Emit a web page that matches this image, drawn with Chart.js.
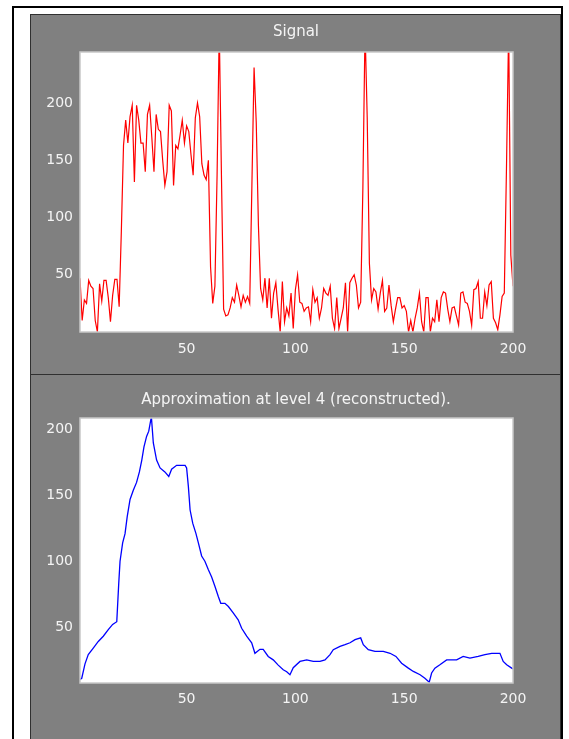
<!DOCTYPE html>
<html>
<head>
<meta charset="utf-8">
<script src="https://cdn.jsdelivr.net/npm/chart.js@4.4.1/dist/chart.umd.min.js"></script>
<style>
  html, body { margin:0; padding:0; background:#fff; width:569px; height:739px; overflow:hidden; }
  #frame { position:absolute; left:12px; top:6px; width:547px; height:740px;
           border-left:2px solid #000; border-top:2px solid #000; border-right:2px solid #000; }
  .panel { position:absolute; left:30px; width:531px; background:#808080;
           border:1px solid #303030; box-sizing:border-box; }
  canvas { position:absolute; left:31px; }
</style>
</head>
<body>
<div id="frame"></div>
<div class="panel" style="top:14px;height:361px"></div>
<div class="panel" style="top:374px;height:366px"></div>
<canvas id="sigChart" width="530" height="358" style="top:15px"></canvas>
<canvas id="appChart" width="530" height="362" style="top:375px"></canvas>
<script>
// tick labels (both plots)
const xTicks = [50, 100, 150, 200];
const yTicks = [50, 100, 150, 200];

// original signal, samples 1..200 (spikes go past the top of the axes)
const signalVals = [
  47, 10, 28, 25, 45, 40, 38, 10,  0, 42,
  27, 45, 45, 30,  9, 32, 46, 46, 22, 88,
 163,185,165,188,198,131,198,185,165,165,
 140,190,198,170,140,190,177,175,150,128,
 140,198,193,128,163,160,172,185,165,180,
 175,155,137,187,200,188,147,137,133,150,
  57, 25, 40,137,265,137, 20, 14, 15, 21,
  30, 26, 41, 32, 22, 32, 26, 31, 25,128,
 231,183, 93, 38, 28, 47, 21, 47, 12, 34,
  43, 20,  0, 44,  9, 21, 14, 34,  3, 37,
  50, 26, 25, 18, 21, 22,  9, 37, 26, 30,
  12, 21, 38, 34, 32, 40, 12,  3, 30,  3,
  12, 21, 43,  0, 43, 47, 50, 41, 21, 26,
 125,265,187, 60, 28, 38, 35, 20, 34, 45,
  18, 21, 41, 23,  9, 20, 30, 30, 21, 23,
  18,  0, 10,  0, 12, 21, 34,  9,  0, 30,
  30,  0, 12,  9, 28,  9, 30, 35, 34, 20,
   9, 21, 22, 14,  6, 34, 35, 26, 25, 18,
   6, 37, 38, 44, 12, 12, 35, 23, 41, 44,
  12,  8,  2, 15, 31, 34,143,265, 67, 40
];

// approximation at level 4: vertices
const approxX = [
  1, 1.8, 3.3, 4.8, 7.1, 9.4, 11.7, 14, 16, 17.9,
  18.8, 19.4, 20.6, 21.7, 22.7, 24, 25.5, 27, 28.3, 29.4,
  30.4, 31.6, 32.6, 33.8, 34.7, 36.2, 37.8, 40, 41.8, 43.1,
  45.4, 49.3, 50, 50.8, 51.6, 52.8, 54.3, 55.4, 56.9, 58.4,
  60, 61.5, 63, 64.6, 65.7, 67.6, 69.2, 71.5, 73.7, 75.3,
  77.6, 79.9, 81.4, 83.7, 85.2, 87.5, 89.8, 92.1, 94.4, 96,
  97.5, 99, 102.1, 105.2, 108.2, 111.3, 113.6, 115.9, 117.4, 120.5,
  122.8, 125.1, 127.4, 130, 131.2, 133.5, 136.6, 140.4, 143.5, 146.2,
  148.8, 151.9, 154.2, 157.3, 159.5, 161.5, 162.6, 164.1, 166.4, 169.5,
  174.1, 177.1, 180.2, 184, 187.1, 190.2, 194, 195.5, 197.1, 199.4, 200
];
const approxVals = [
  10, 11, 22, 29, 34, 39, 43, 48, 52, 54,
  83, 100, 114, 121, 134, 147, 154, 160, 168, 177,
  187, 195, 199, 210, 190, 177, 171, 168, 164.5, 170,
  173, 173, 171, 157, 139, 129, 121, 114, 104, 100,
  93.5, 88, 81, 73, 68, 68, 65.6, 60.6, 55.5, 49,
  43, 38, 30, 33, 33, 27.6, 25, 21, 17.5, 16,
  13.7, 19, 23.8, 25, 23.8, 23.8, 25, 29, 32.7, 35.3,
  36.6, 38, 40.4, 41.7, 36.6, 32.7, 31.4, 31.4, 30, 27.6,
  22.5, 18.7, 16.2, 13.7, 11, 8, 15, 18.7, 21.3, 25,
  25, 27.6, 26.3, 27.6, 29, 30, 30, 23.8, 21.3, 18.7, 18
];

const TXT = '#f4f4f4';
Chart.defaults.font.family = "'DejaVu Sans', sans-serif";
Chart.defaults.font.size = 14;

// white axes box with a light edge, like the original figure
const plotBox = {
  id: 'plotBox',
  beforeDraw(chart) {
    const a = chart.chartArea, c = chart.ctx;
    c.save();
    c.fillStyle = '#ffffff';
    c.fillRect(a.left, a.top, a.right - a.left, a.bottom - a.top);
    c.restore();
  },
  afterDraw(chart) {
    const a = chart.chartArea, c = chart.ctx;
    c.save();
    c.strokeStyle = '#c8c8c8';
    c.lineWidth = 1.5;
    c.strokeRect(a.left, a.top, a.right - a.left, a.bottom - a.top);
    c.restore();
  }
};

function makeChart(id, o) {
  return new Chart(document.getElementById(id), {
    type: 'line',
    data: { datasets: [{
      data: o.points,
      borderColor: o.color,
      borderWidth: o.lw,
      pointRadius: 0,
      tension: 0,
      fill: false
    }]},
    options: {
      responsive: false,
      animation: false,
      devicePixelRatio: 1,
      layout: { padding: { left: 0, right: 0, top: 0, bottom: o.padBottom } },
      plugins: {
        legend: { display: false },
        tooltip: { enabled: false },
        title: {
          display: true,
          text: o.title,
          color: TXT,
          font: { size: 15, weight: 'normal' },
          padding: o.titlePad
        }
      },
      scales: {
        x: {
          type: 'linear', min: 1, max: 200,
          grid: { display: false, drawTicks: false },
          border: { display: false },
          ticks: { color: TXT, padding: o.xPad, maxRotation: 0 },
          afterBuildTicks: s => { s.ticks = xTicks.map(v => ({ value: v })); },
          afterFit: s => { s.height = 30; }
        },
        y: {
          type: 'linear', min: o.ymin, max: o.ymax,
          grid: { display: false, drawTicks: false },
          border: { display: false },
          ticks: { color: TXT, padding: 7 },
          afterBuildTicks: s => { s.ticks = yTicks.map(v => ({ value: v })); },
          afterFit: s => { s.width = 49; }
        },
        // empty right-hand gutter so the title stays centred over the axes
        gutter: {
          type: 'linear', position: 'right',
          grid: { display: false, drawTicks: false },
          border: { display: false },
          ticks: { display: false },
          afterFit: s => { s.width = 48; }
        }
      }
    },
    plugins: [plotBox]
  });
}

makeChart('sigChart', {
  title: 'Signal',
  points: signalVals.map((v, i) => ({ x: i + 1, y: v })),
  color: '#ff0000', lw: 1.2,
  ymin: 0, ymax: 244.5,
  titlePad: { top: 8, bottom: 11 },
  padBottom: 11, xPad: 9
});

makeChart('appChart', {
  title: 'Approximation at level 4 (reconstructed).',
  points: approxX.map((x, i) => ({ x: x, y: approxVals[i] })),
  color: '#0000ff', lw: 1.3,
  ymin: 7.4, ymax: 209,
  titlePad: { top: 16, bottom: 9 },
  padBottom: 24, xPad: 8
});
</script>
</body>
</html>
